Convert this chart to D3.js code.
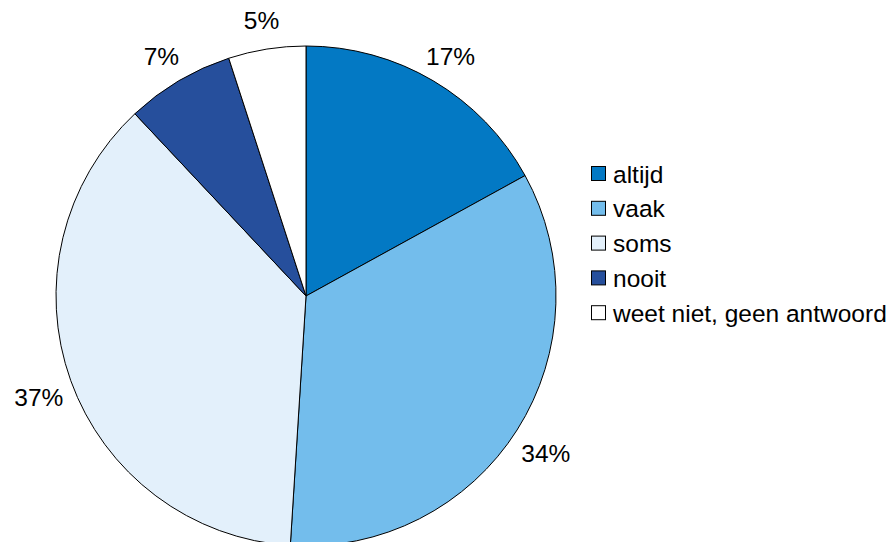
<!DOCTYPE html>
<html>
<head>
<meta charset="utf-8">
<script src="https://cdn.jsdelivr.net/npm/d3@7"></script>
<style>
  html, body { margin: 0; padding: 0; background: #fff; }
  svg { display: block; font-family: "Liberation Sans", Arial, sans-serif; }
</style>
</head>
<body>
<svg id="chart" width="895" height="542"></svg>
<script>
// Answer categories and their shares (percent)
const categories = ["altijd", "vaak", "soms", "nooit", "weet niet, geen antwoord"];
const values = [17, 34, 37, 7, 5];
const colors = ["#0379C4", "#73BDEC", "#E3F0FB", "#264F9C", "#FFFFFF"];

const svg = d3.select("#chart");
const cx = 306, cy = 296, radius = 250;
const fontSize = 24.5;

const pie = d3.pie().sort(null).value(d => d.value)
  .startAngle(0).endAngle(2 * Math.PI);
const data = categories.map((c, i) => ({ name: c, value: values[i], color: colors[i] }));
const arcs = pie(data);

const arc = d3.arc().innerRadius(0).outerRadius(radius);
// percentage labels sit on a ring just outside the pie
const labelArc = d3.arc().innerRadius(284).outerRadius(284);

const g = svg.append("g").attr("transform", `translate(${cx},${cy})`);

g.selectAll("path.slice")
  .data(arcs)
  .join("path")
  .attr("class", "slice")
  .attr("d", arc)
  .attr("fill", d => d.data.color)
  .attr("stroke", "#000")
  .attr("stroke-width", 1);

g.selectAll("text.pct")
  .data(arcs)
  .join("text")
  .attr("class", "pct")
  .attr("transform", d => {
    const [x, y] = labelArc.centroid(d);
    return `translate(${x},${y + 5})`;
  })
  .attr("text-anchor", "middle")
  .attr("dominant-baseline", "central")
  .attr("font-size", fontSize)
  .attr("fill", "#000")
  .text(d => d.data.value + "%");

// Legend
const legend = svg.append("g").attr("transform", "translate(591,166)");
const rowH = 34.8;
const item = legend.selectAll("g.item")
  .data(data)
  .join("g")
  .attr("class", "item")
  .attr("transform", (d, i) => `translate(0,${i * rowH})`);

item.append("rect")
  .attr("x", 0.5).attr("y", 0.5)
  .attr("width", 14).attr("height", 14)
  .attr("fill", d => d.color)
  .attr("stroke", "#000")
  .attr("stroke-width", 1);

item.append("text")
  .attr("x", 22)
  .attr("y", 8)
  .attr("dominant-baseline", "central")
  .attr("font-size", fontSize)
  .attr("fill", "#000")
  .text(d => d.name);
</script>
</body>
</html>
